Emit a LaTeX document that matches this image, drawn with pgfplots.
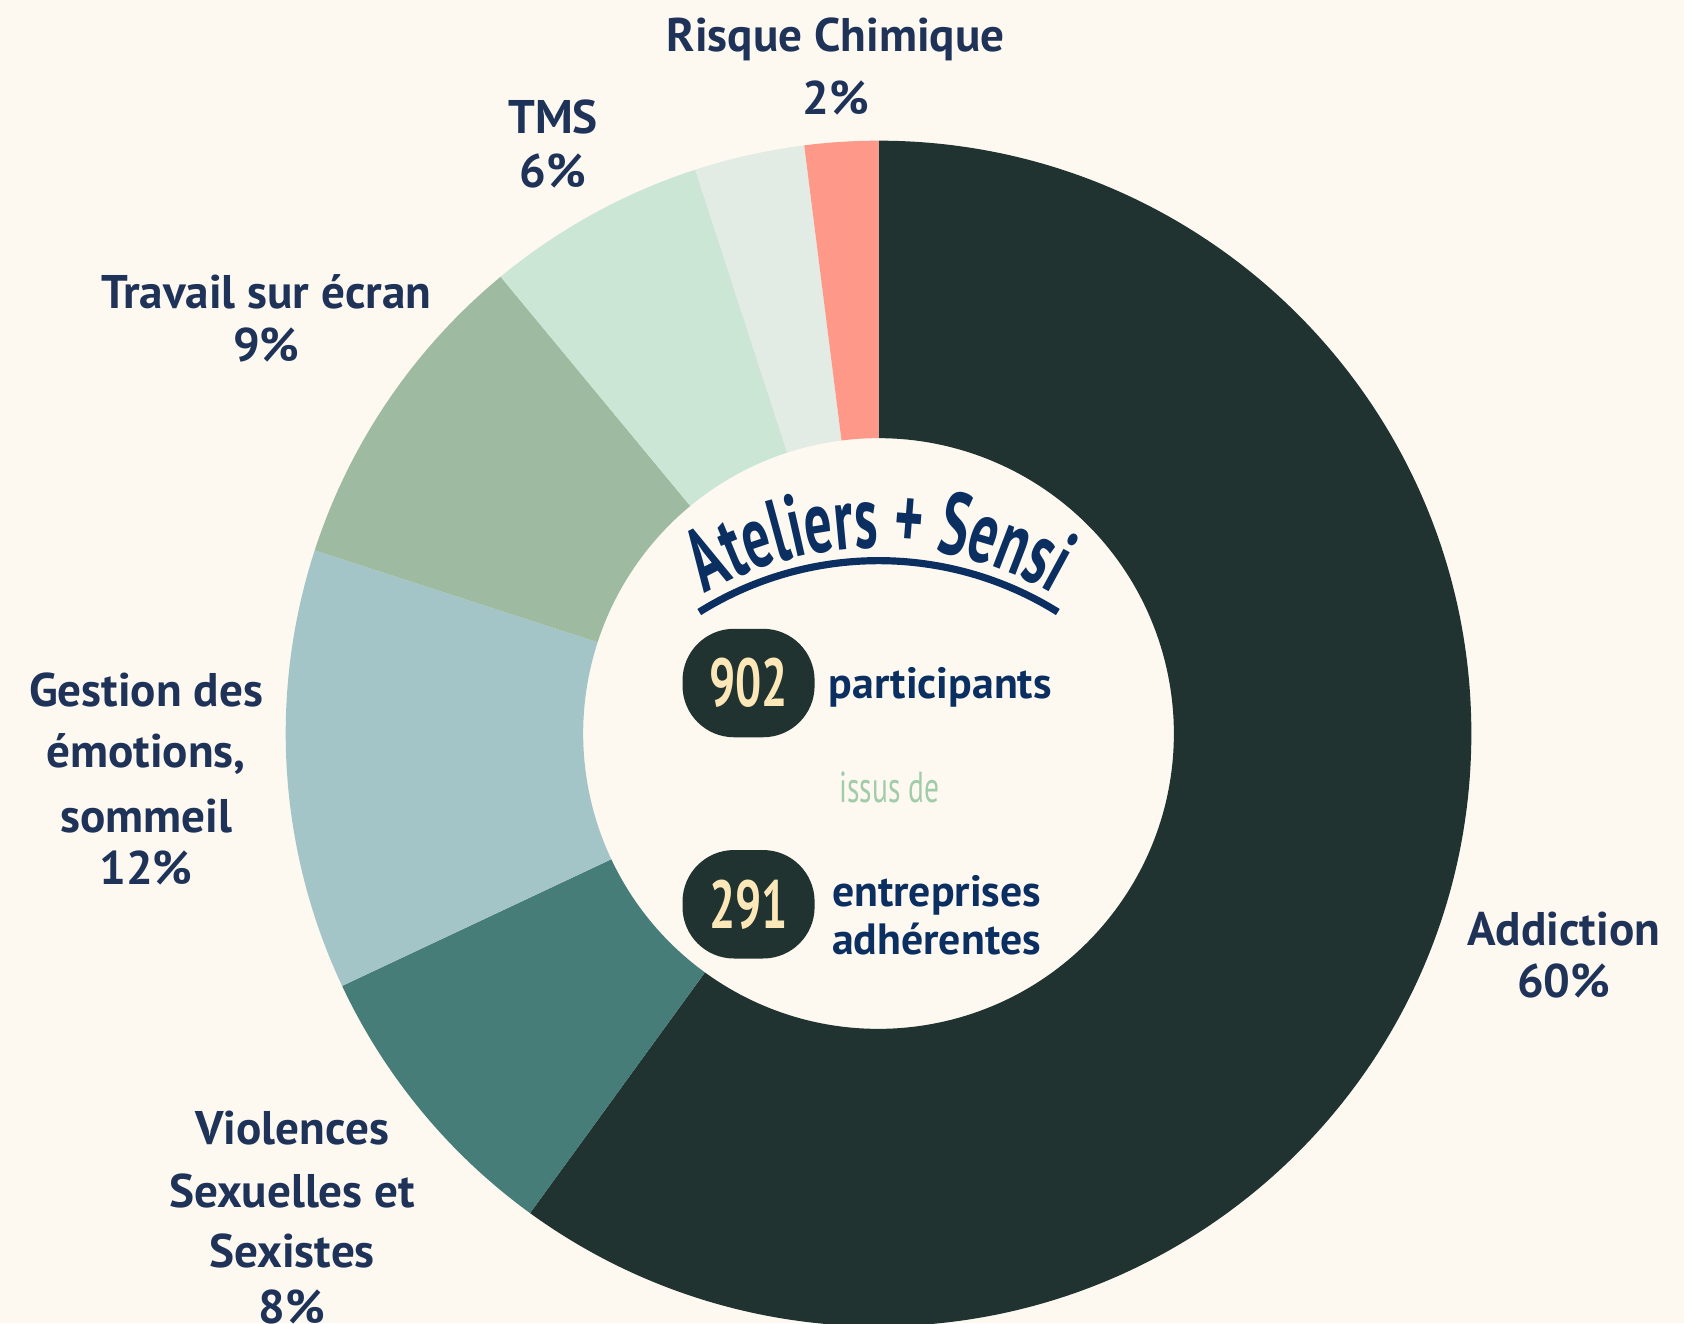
\documentclass[border=0pt]{standalone}
\usepackage{pgfplots}
\usepackage{pgfplotstable}
\pgfplotsset{compat=1.18}
\usetikzlibrary{decorations.text}
\usepackage{fontspec}
\setmainfont{PT Sans}
\newfontfamily\condfont[FakeStretch=0.68]{PT Sans}
\newfontfamily\titlefont[FakeStretch=0.62]{PT Sans}

\definecolor{bgc}{HTML}{FDF9F1}
\definecolor{cAdd}{HTML}{213331}
\definecolor{cVio}{HTML}{477D79}
\definecolor{cGes}{HTML}{A4C5C7}
\definecolor{cTra}{HTML}{9EBBA1}
\definecolor{cTms}{HTML}{CCE6D6}
\definecolor{cOth}{HTML}{E2EBE4}
\definecolor{cRis}{HTML}{FE998A}
\definecolor{labc}{HTML}{1F3359}
\definecolor{navyc}{HTML}{0B2F61}
\definecolor{cream}{HTML}{FCE7B9}
\definecolor{issc}{HTML}{A2CCA9}

% share of each theme, clockwise from the top
\pgfplotstableread{
value color
60 cAdd
8  cVio
12 cGes
9  cTra
6  cTms
3  cOth
2  cRis
}\shares

\newcommand\lbl[3]{\node[anchor=base, inner sep=0pt, text=labc,
  font=\bfseries\fontsize{12.5}{14}\selectfont] at (axis cs:#1,#2) {#3};}

\begin{document}
\begin{tikzpicture}
\begin{axis}[
    x=1cm, y=1cm,
    xmin=-8.18, xmax=7.50,
    ymin=-5.49, ymax=6.83,
    hide axis,
]
\coordinate (BL) at (axis cs:-8.18,-5.49);
\coordinate (TR) at (axis cs:7.50,6.83);
\fill[bgc] (axis cs:-8.18,-5.49) rectangle (axis cs:7.50,6.83);

% donut wedges
\pgfplotstablegetrowsof{\shares}
\pgfmathtruncatemacro\nrows{\pgfplotsretval-1}
\def\angA{90}
\pgfplotsforeachungrouped \i in {0,...,\nrows}{%
  \pgfplotstablegetelem{\i}{value}\of\shares \let\val\pgfplotsretval
  \pgfplotstablegetelem{\i}{color}\of\shares \let\col\pgfplotsretval
  \pgfmathsetmacro\angB{\angA-3.6*\val}
  \pgfmathsetmacro\xo{5.52*cos(\angA)}
  \pgfmathsetmacro\yo{5.52*sin(\angA)}
  \pgfmathsetmacro\xi{2.75*cos(\angB)}
  \pgfmathsetmacro\yi{2.75*sin(\angB)}
  \edef\wedgecmd{\noexpand\fill[\col] (axis cs:\xo,\yo)
    arc[start angle=\angA, end angle=\angB, radius=5.52]
    -- (axis cs:\xi,\yi)
    arc[start angle=\angB, end angle=\angA, radius=2.75] -- cycle;}
  \wedgecmd
  \global\let\angA\angB
}

% labels
\lbl{-0.40}{6.35}{Risque Chimique}
\lbl{-0.40}{5.76}{2\%}
\lbl{-3.03}{5.59}{TMS}
\lbl{-3.03}{5.08}{6\%}
\lbl{-5.70}{3.96}{Travail sur écran}
\lbl{-5.70}{3.46}{9\%}
\lbl{-6.82}{0.25}{Gestion des}
\lbl{-6.82}{-0.32}{émotions,}
\lbl{-6.82}{-0.92}{sommeil}
\lbl{-6.82}{-1.41}{12\%}
\lbl{-5.46}{-3.83}{Violences}
\lbl{-5.46}{-4.41}{Sexuelles et}
\lbl{-5.46}{-4.97}{Sexistes}
\lbl{-5.46}{-5.49}{8\%}
\lbl{6.38}{-1.97}{Addiction}
\lbl{6.38}{-2.46}{60\%}

% centre
\path[decorate, decoration={text along path, text align=center,
    text={|\titlefont\bfseries\fontsize{23.5}{26}\selectfont\color{navyc}|Ateliers + Sensi}}]
  (axis cs:-2.832,0.095) arc[start angle=150, end angle=30, radius=3.27];
\draw[navyc, line width=1.9pt] (axis cs:-1.669,1.131)
  arc[start angle=122, end angle=58, radius=3.15];

\fill[cAdd, rounded corners=0.48cm] (axis cs:-1.825,-0.035) rectangle (axis cs:-0.595,0.975);
\node[text=cream, font=\condfont\bfseries\fontsize{18}{18}\selectfont] at (axis cs:-1.21,0.47) {902};
\node[anchor=base west, inner sep=0pt, text=navyc, font=\bfseries\fontsize{11.6}{13}\selectfont]
  at (axis cs:-0.47,0.33) {participants};

\node[anchor=base, inner sep=0pt, text=issc, font=\condfont\fontsize{11.5}{12}\selectfont]
  at (axis cs:0.10,-0.64) {issus de};

\fill[cAdd, rounded corners=0.48cm] (axis cs:-1.825,-2.095) rectangle (axis cs:-0.595,-1.085);
\node[text=cream, font=\condfont\bfseries\fontsize{18}{18}\selectfont] at (axis cs:-1.21,-1.59) {291};
\node[anchor=base, inner sep=0pt, text=navyc, font=\bfseries\fontsize{11.6}{13}\selectfont]
  at (axis cs:0.54,-1.61) {entreprises};
\node[anchor=base, inner sep=0pt, text=navyc, font=\bfseries\fontsize{11.6}{13}\selectfont]
  at (axis cs:0.54,-2.06) {adhérentes};
\end{axis}
\pgfresetboundingbox
\useasboundingbox (BL) rectangle (TR);
\end{tikzpicture}
\end{document}
